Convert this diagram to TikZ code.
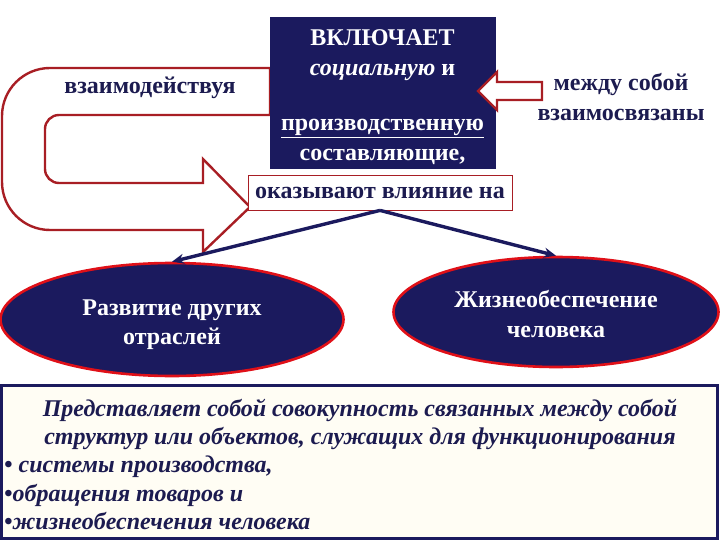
\documentclass[tikz,border=0pt]{standalone}
\usepackage{fontspec}
\setmainfont{Liberation Serif}
\usetikzlibrary{shapes.geometric,arrows.meta}
\definecolor{navy}{HTML}{1B1A5E}
\definecolor{navytxt}{HTML}{1C1B50}
\definecolor{dred}{HTML}{A81E24}
\definecolor{bred}{HTML}{E01018}
\definecolor{ivory}{HTML}{FFFDF4}
\tikzset{
  big/.style={font=\fontsize{24}{29.5}\selectfont\bfseries},
  uarrow/.style={draw=dred,line width=2.4pt,fill=white,line join=miter},
  navybox/.style={draw=navy,fill=navy,minimum width=225pt,minimum height=151pt,inner sep=0pt},
  oval/.style={ellipse,draw=bred,line width=2.6pt,fill=navy,inner sep=0pt},
  ovaltxt/.style={big,text=white,align=center,inner sep=0pt},
  conn/.style={draw=navy,line width=3.4pt,-{Stealth[length=12pt,width=10pt]}},
  lbl/.style={big,text=navytxt,align=center,inner sep=0pt}
}
\begin{document}
\begin{tikzpicture}[x=1pt,y=-1pt]
\useasboundingbox (0,0) rectangle (720,540);
% U-shaped arrow
\draw[uarrow] (270,68) [rounded corners=48] -- (2,68) -- (2,230) -- (150,230) [sharp corners] -- (203,230) -- (203,252) -- (250,207) -- (203,159) -- (203,183) -- (150,183) [rounded corners=14] -- (45,183) -- (45,115) -- (100,115) [sharp corners] -- (270,115) -- cycle;
\node[lbl] (inter) at (150,88) {взаимодействуя};
% main box
\node[navybox] (incl) at (382.5,92.5) {};
\node[big,text=white,align=center,inner sep=0pt] (incltxt) at (382.5,97) {ВКЛЮЧАЕТ\\\textit{социальную} и\\[26pt]\underline{производственную}\\составляющие,};
% small arrow
\draw[uarrow] (542,82) -- (497,82) -- (497,72) -- (478,91) -- (497,110) -- (497,100) -- (542,100) -- cycle;
\node[lbl] (mutual) at (621,97) {между собой\\взаимосвязаны};
% influence box
\node[draw=dred,line width=0.8pt,fill=white,minimum width=264pt,minimum height=35pt,inner sep=0pt,big,text=navytxt] (infl) at (380,192.5) {оказывают влияние на};
% ellipses
\node[oval,minimum width=343pt,minimum height=113pt] (dev) at (172,319.5) {};
\node[ovaltxt] (devtxt) at ([yshift=-5pt]dev.center) {Развитие других\\отраслей};
\node[oval,minimum width=325pt,minimum height=110pt] (life) at (556,312) {};
\node[ovaltxt] (lifetxt) at ([yshift=-2pt]life.center) {Жизнеобеспечение\\человека};
\draw[conn] (infl.south) -- (dev.north);
\draw[conn] (infl.south) -- (life.north);
% bottom box
\node[draw=navy,line width=3pt,fill=ivory,minimum width=716pt,minimum height=153pt,inner sep=0pt] (def) at (359,462) {};
\node[text=navytxt,font=\fontsize{24}{28.8}\selectfont\bfseries\itshape,align=center,inner sep=0pt] (deftxt) at (360,424.5) {Представляет собой совокупность связанных между собой\\структур или объектов, служащих для функционирования};
\node[text=navytxt,font=\fontsize{24}{28.3}\selectfont\bfseries\itshape,align=left,inner sep=0pt,anchor=west] (bul) at (4,493) {• системы производства,\\•обращения товаров и\\•жизнеобеспечения человека};
\end{tikzpicture}
\end{document}
